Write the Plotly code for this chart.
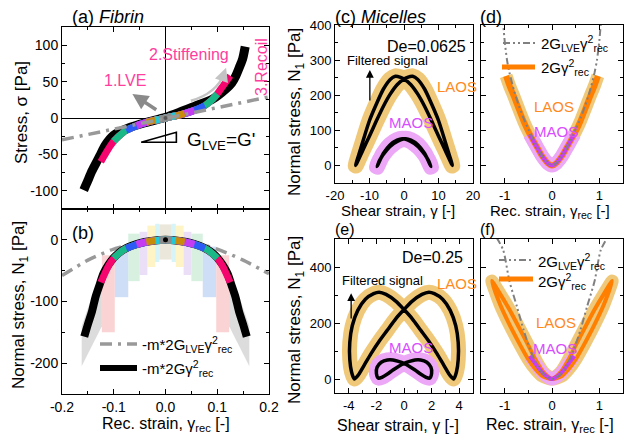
import plotly.graph_objects as go

W, H = 633, 436
FONT = "Liberation Sans, Arial, sans-serif"

# ---------------- tick labels ----------------
A_YTICKS = [-100, -50, 0, 50, 100]
A_YLABELS = ['-100', '-50', '0', '50', '100']
B_XTICKS = [-0.2, -0.1, 0.0, 0.1, 0.2]
B_XLABELS = ['-0.2', '-0.1', '0.0', '0.1', '0.2']
B_YTICKS = [-200, -100, 0]
B_YLABELS = ['-200', '-100', '0']
C_XTICKS = [-20, -10, 0, 10, 20]
C_XLABELS = ['-20', '-10', '0', '10', '20']
C_YTICKS = [0, 100, 200, 300, 400]
C_YLABELS = ['0', '100', '200', '300', '400']
D_XTICKS = [-1, 0, 1]
D_XLABELS = ['-1', '0', '1']
E_XTICKS = [-4, -2, 0, 2, 4]
E_XLABELS = ['-4', '-2', '0', '2', '4']
E_YTICKS = [0, 200, 400]
E_YLABELS = ['0', '200', '400']

# ---------------- (a) fibrin stress ----------------
A_BLACK_X = [-0.158, -0.150, -0.143, -0.135, -0.127, -0.117, -0.101, -0.069, -0.037, 0.0,
             0.027, 0.059, 0.091, 0.117, 0.128, 0.136, 0.143, 0.149, 0.154]
A_BLACK_Y = [-99, -86, -74, -63, -52, -38, -24, -13, -6, 1,
             8, 17, 26, 40, 48, 58, 70, 81, 98]
AMP_LEVELS = [0.125, 0.1, 0.076, 0.056, 0.037, 0.02, 0.012]
AMP_COLORS = ['#F5056E', '#19B886', '#2C5BF5', '#C43BF2', '#C98B0A', '#22C8D8', '#8C8C8C']
A_COL_X = [-0.125, -0.11, -0.1, -0.09, -0.076, -0.056, -0.037, -0.02, -0.012, 0.0,
           0.012, 0.02, 0.037, 0.056, 0.076, 0.09, 0.1, 0.11, 0.125]
A_COL_Y = [-60, -42, -32, -25, -17, -10.5, -6, -3, -2, 0,
           2, 3, 6, 10.5, 17, 25, 33, 43, 58]
A_LVE_X = [-0.2, 0.2]
A_LVE_Y = [-30, 29]
CENTER_X = [0.0]
CENTER_Y = [0.0]

# ---------------- (b) fibrin normal stress ----------------
B_BLACK_X = [-0.157, -0.15, -0.142, -0.135, -0.127, -0.12, -0.11, -0.1, -0.09, -0.075, -0.056, -0.04, -0.02, 0.0,
             0.02, 0.04, 0.056, 0.075, 0.09, 0.1, 0.11, 0.12, 0.127, 0.135, 0.142, 0.15, 0.157]
B_BLACK_Y = [-157, -137, -116, -92, -72, -55, -40, -29, -21, -13, -7, -3.5, -1, 0,
             -1, -3.5, -7, -13, -21, -29, -40, -55, -72, -92, -116, -137, -157]
B_COL_X = A_COL_X
B_COL_Y = [-69, -42, -30, -22, -14, -7.5, -3.5, -1.2, -0.5, 0,
           -0.5, -1.2, -3.5, -7.5, -14, -22, -30, -42, -69]
B_LVE_X = [-0.2, -0.15, -0.1, -0.05, 0.0, 0.05, 0.1, 0.15, 0.2]
B_LVE_Y = [-58, -33, -15, -4, 0, -4, -15, -33, -55]
NOISE_EDGES = [0.0, 0.012, 0.02, 0.035, 0.05, 0.072, 0.098, 0.123]
NOISE_TOP = [25, 26, 23, 13, 10, -11, -25]
NOISE_BOT = [-32, -36, -44, -57, -67, -93, -150]
NOISE_FILL = ['#e4dfcf', '#c9f1f5', '#fdf0b2', '#e3d4f3', '#c9ebd6', '#bed3f4', '#f8c6c6']
B_GRAY_X = [0.123, 0.162, 0.162, 0.123]
B_GRAY_Y = [-45, -140, -205, -140]

# ---------------- (c) micelles De=0.0625 ----------------
C_LAOS_X = [-14, -12, -10, -8, -6, -4, -2.5, -1, 0, 2, 4, 6, 8, 10, 12, 14,
            12, 10, 8, 6, 4, 2.5, 1, 0, -2, -4, -6, -8, -10, -12, -14]
C_LAOS_Y = [0, 66, 128, 175, 217, 245, 254, 251, 246, 230, 203, 168, 127, 84, 42, 0,
            66, 128, 175, 217, 245, 254, 251, 246, 230, 203, 168, 127, 84, 42, 0]
C_MAOS_X = [-7.8, -6, -4, -2, -0.5, 1, 3, 5, 7, 7.8,
            6, 4, 2, 0.5, -1, -3, -5, -7, -7.8]
C_MAOS_Y = [-3, 34, 59, 72, 76, 73, 62, 44, 16, -3,
            34, 59, 72, 76, 73, 62, 44, 16, -3]

# ---------------- (d) micelles De=0.0625, rec strain ----------------
D_LAOS_X = [-0.97, -0.9, -0.8, -0.7, -0.6, -0.5, -0.4, -0.3, -0.2, -0.1, 0.0,
            0.1, 0.2, 0.3, 0.4, 0.5, 0.6, 0.7, 0.8, 0.9, 0.97]
D_LAOS_Y = [255, 228, 195, 160, 126, 97, 72, 48, 25, 8, 0,
            8, 25, 48, 72, 97, 126, 160, 195, 228, 255]
D_MAOS_X = [-0.47, -0.4, -0.3, -0.2, -0.1, 0.0, 0.1, 0.2, 0.3, 0.4, 0.47]
D_MAOS_Y = [89, 72, 48, 25, 8, 0, 8, 25, 48, 72, 89]
D_LVE_X = [-1.04, -1.0, -0.95, -0.9, -0.8, -0.7, -0.6, -0.5, -0.4, -0.3, -0.2, -0.1, 0.0,
           0.1, 0.2, 0.3, 0.4, 0.5, 0.6, 0.7, 0.8, 0.9, 0.95, 1.0, 1.04]
D_LVE_Y = [420, 355, 300, 265, 212, 170, 134, 103, 75, 48, 25, 8, 0,
           8, 25, 48, 75, 103, 134, 170, 212, 265, 300, 355, 420]

# ---------------- (e) micelles De=0.25 ----------------
E_LAOS_X = [-3.6, -3.8, -3.93, -3.93, -3.75, -3.35, -2.8, -2.2, -1.8, -1.3, -0.6, 0.0, 0.6, 1.2, 1.8, 2.4, 2.9, 3.3, 3.6,
            3.8, 3.93, 3.93, 3.75, 3.35, 2.8, 2.2, 1.8, 1.3, 0.6, 0.0, -0.6, -1.2, -1.8, -2.4, -2.9, -3.3, -3.6]
E_LAOS_Y = [0, 25, 70, 130, 190, 245, 285, 305, 310, 302, 278, 248, 215, 175, 135, 90, 48, 15, 0,
            25, 70, 130, 190, 245, 285, 305, 310, 302, 278, 248, 215, 175, 135, 90, 48, 15, 0]
E_MAOS_X = [-1.85, -2.0, -1.95, -1.65, -1.2, -0.8, -0.4, 0.0, 0.4, 0.8, 1.2, 1.6, 1.85,
            2.0, 1.95, 1.65, 1.2, 0.8, 0.4, 0.0, -0.4, -0.8, -1.2, -1.6, -1.85]
E_MAOS_Y = [3, 20, 42, 60, 68, 68, 63, 56, 45, 32, 18, 6, 3,
            20, 42, 60, 68, 68, 63, 56, 45, 32, 18, 6, 3]

# ---------------- (f) micelles De=0.25, rec strain ----------------
F_LAOS_X = [-1.27, -1.1, -0.9, -0.7, -0.5, -0.35, -0.2, 0.0, 0.2, 0.35, 0.5, 0.7, 0.9, 1.1, 1.27,
            1.1, 0.9, 0.7, 0.5, 0.35, 0.2, 0.0, -0.2, -0.35, -0.5, -0.7, -0.9, -1.1, -1.27]
F_LAOS_Y = [350, 305, 248, 185, 120, 70, 28, 0, 10, 35, 70, 130, 195, 268, 350,
            305, 248, 185, 120, 70, 28, 0, 10, 35, 70, 130, 195, 268, 350]
F_MAOS_X = [-0.47, -0.35, -0.25, -0.15, -0.05, 0.0, 0.05, 0.15, 0.25, 0.35, 0.47]
F_MAOS_Y = [82, 55, 32, 14, 3, 0, 3, 14, 32, 55, 82]
F_LVE_X = [-1.17, -1.03, -0.9, -0.74, -0.6, -0.46, -0.3, -0.15, 0.0, 0.15, 0.3, 0.46, 0.6, 0.74, 0.9, 1.03, 1.17]
F_LVE_Y = [505, 460, 350, 258, 175, 104, 45, 12, 0, 12, 45, 104, 175, 258, 350, 460, 505]

# ---------------- colours ----------------
PINK_T = '#FF3D9E'
ORANGE = '#FF7F00'
ORANGE_T = '#FF8A1E'
TAN = '#F0C87A'
VIOLET = '#C83CF5'
VIOLET_T = '#D94CFF'
VIOLET_BAND = '#ECA8F6'

fig = go.Figure()


def line(x, y, ax, color, width, dash=None, smooth=True, opacity=1.0):
    fig.add_trace(go.Scatter(
        x=x, y=y, xaxis='x' + ax, yaxis='y' + ax, mode='lines',
        line=dict(color=color, width=width, dash=dash,
                  shape='spline' if smooth else 'linear', smoothing=0.7),
        opacity=opacity, hoverinfo='skip', showlegend=False))


def poly(x, y, ax, color, opacity=1.0):
    fig.add_trace(go.Scatter(
        x=x, y=y, xaxis='x' + ax, yaxis='y' + ax, mode='lines', fill='toself',
        fillcolor=color, line=dict(width=0), opacity=opacity,
        hoverinfo='skip', showlegend=False))


def subset(xs, ys, lim):
    px_, py_ = [], []
    for a, b in zip(xs, ys):
        if abs(a) <= lim + 1e-9:
            px_.append(a)
            py_.append(b)
    return px_, py_


# ---- (a)
line(A_BLACK_X, A_BLACK_Y, '', 'black', 9)
for lev, col in zip(AMP_LEVELS, AMP_COLORS):
    sx, sy = subset(A_COL_X, A_COL_Y, lev)
    line(sx, sy, '', col, 7)
fig.add_trace(go.Scatter(x=CENTER_X, y=CENTER_Y, xaxis='x', yaxis='y', mode='markers',
                         marker=dict(color='#555', size=4), hoverinfo='skip', showlegend=False))
line(A_LVE_X, A_LVE_Y, '', '#999999', 3.5, dash='12px,6px,3px,6px', smooth=False)

# ---- (b)
for i, col in enumerate(NOISE_FILL):
    e0, e1 = NOISE_EDGES[i], NOISE_EDGES[i + 1]
    t, b = NOISE_TOP[i], NOISE_BOT[i]
    if e0 == 0.0:
        poly([-e1, e1, e1, -e1, -e1], [t, t, b, b, t], '2', col, 0.75)
    else:
        poly([-e1, -e0, -e0, -e1, -e1], [t, t, b, b, t], '2', col, 0.75)
        poly([e0, e1, e1, e0, e0], [t, t, b, b, t], '2', col, 0.75)
poly(B_GRAY_X, B_GRAY_Y, '2', '#d6d6d6', 0.85)
poly([-v for v in B_GRAY_X], B_GRAY_Y, '2', '#d6d6d6', 0.85)
line(B_LVE_X, B_LVE_Y, '2', '#999999', 3.5, dash='12px,6px,3px,6px')
line(B_BLACK_X, B_BLACK_Y, '2', 'black', 8)
for lev, col in zip(AMP_LEVELS, AMP_COLORS):
    sx, sy = subset(B_COL_X, B_COL_Y, lev)
    line(sx, sy, '2', col, 7)
fig.add_trace(go.Scatter(x=CENTER_X, y=CENTER_Y, xaxis='x2', yaxis='y2', mode='markers',
                         marker=dict(color='black', size=5), hoverinfo='skip', showlegend=False))

# ---- (c)
line(C_LAOS_X, C_LAOS_Y, '3', TAN, 16)
line(C_MAOS_X, C_MAOS_Y, '3', VIOLET_BAND, 16)
line(C_LAOS_X, C_LAOS_Y, '3', 'black', 3.5)
line(C_MAOS_X, C_MAOS_Y, '3', 'black', 3.5)

# ---- (d)
line(D_LAOS_X, D_LAOS_Y, '4', TAN, 13)
line(D_MAOS_X, D_MAOS_Y, '4', VIOLET_BAND, 14)
line(D_LAOS_X, D_LAOS_Y, '4', ORANGE, 6)
line(D_MAOS_X, D_MAOS_Y, '4', VIOLET, 4)
line(D_LVE_X, D_LVE_Y, '4', '#808080', 2, dash='7px,3px,2px,3px,2px,3px')

# ---- (e)
line(E_LAOS_X, E_LAOS_Y, '5', TAN, 15)
line(E_MAOS_X, E_MAOS_Y, '5', VIOLET_BAND, 15)
line(E_LAOS_X, E_LAOS_Y, '5', 'black', 3.5)
line(E_MAOS_X, E_MAOS_Y, '5', 'black', 3.5)

# ---- (f)
line(F_LAOS_X, F_LAOS_Y, '6', TAN, 13)
line(F_MAOS_X, F_MAOS_Y, '6', VIOLET_BAND, 13)
line(F_LAOS_X, F_LAOS_Y, '6', ORANGE, 4)
line(F_MAOS_X, F_MAOS_Y, '6', VIOLET, 4)
line(F_LVE_X, F_LVE_Y, '6', '#808080', 2, dash='7px,3px,2px,3px,2px,3px')


# ---------------- axes ----------------
def dom_x(a, b):
    return [a / W, b / W]


def dom_y(top, bottom):
    return [1 - bottom / H, 1 - top / H]


def axis(domain, rng, anchor, tickvals, ticktext, minor, show=True, size=13, **kw):
    d = dict(domain=domain, range=rng, anchor=anchor, showline=True, linecolor='black',
             linewidth=1, mirror='ticks', ticks='inside', ticklen=5, tickwidth=1,
             tickcolor='black', showgrid=False, zeroline=False, tickmode='array',
             tickvals=tickvals, ticktext=ticktext, showticklabels=show, automargin=False,
             tickfont=dict(size=size, color='black', family=FONT),
             minor=dict(ticks='inside', ticklen=3, tickcolor='black', dtick=minor,
                        tick0=0, showgrid=False))
    d.update(kw)
    return d


XA = dom_x(62, 269)
XC = dom_x(335, 473)
XD = dom_x(481, 623)
YA = dom_y(27, 209)
YB = dom_y(209, 394)
YC = dom_y(25, 183)
YE = dom_y(239, 393)

fig.update_layout(
    xaxis=axis(XA, [-0.2, 0.2], 'y', B_XTICKS, B_XLABELS, 0.05, show=False,
               zeroline=True, zerolinecolor='black', zerolinewidth=1),
    yaxis=axis(YA, [-125, 125], 'x', A_YTICKS, A_YLABELS, 25, size=14,
               zeroline=True, zerolinecolor='black', zerolinewidth=1),
    xaxis2=axis(XA, [-0.2, 0.2], 'y2', B_XTICKS, B_XLABELS, 0.05, size=14),
    yaxis2=axis(YB, [-250, 50], 'x2', B_YTICKS, B_YLABELS, 50, size=14),
    xaxis3=axis(XC, [-20, 20], 'y3', C_XTICKS, C_XLABELS, 5),
    yaxis3=axis(YC, [-50, 400], 'x3', C_YTICKS, C_YLABELS, 50),
    xaxis4=axis(XD, [-1.5, 1.5], 'y4', D_XTICKS, D_XLABELS, 0.5),
    yaxis4=axis(YC, [-50, 400], 'x4', C_YTICKS, C_YLABELS, 50, show=False),
    xaxis5=axis(XC, [-5, 5], 'y5', E_XTICKS, E_XLABELS, 1),
    yaxis5=axis(YE, [-50, 500], 'x5', E_YTICKS, E_YLABELS, 100),
    xaxis6=axis(XD, [-1.5, 1.5], 'y6', D_XTICKS, D_XLABELS, 0.5),
    yaxis6=axis(YE, [-50, 500], 'x6', E_YTICKS, E_YLABELS, 100, show=False),
)

# ---------------- annotations ----------------
ann = []


def text(x, y, s, size=16, color='black', xanchor='left', angle=0):
    ann.append(dict(x=x / W, y=1 - y / H, xref='paper', yref='paper', text=s, showarrow=False,
                    font=dict(size=size, color=color, family=FONT), xanchor=xanchor,
                    yanchor='middle', textangle=angle))


NS = 'Normal stress, N<sub>1</sub> [Pa]'
RS = 'Rec. strain, γ<sub>rec</sub> [-]'
SS = 'Shear strain, γ [-]'
text(70, 17, '(a) <i>Fibrin</i>', 18)
text(70, 233, '(b)', 18)
text(333, 17, '(c) <i>Micelles</i>', 18)
text(478, 17, '(d)', 18)
text(333, 229, '(e)', 16)
text(478, 229, '(f)', 16)
text(22, 113, 'Stress, σ [Pa]', 17, angle=-90, xanchor='center')
text(20, 305, NS, 17, angle=-90, xanchor='center')
text(296, 112, NS, 17, angle=-90, xanchor='center')
text(296, 320, NS, 17, angle=-90, xanchor='center')
text(166, 424, RS, 16, xanchor='center')
text(398, 210, SS, 15, xanchor='center')
text(550, 211, RS, 15, xanchor='center')
text(398, 425, SS, 16, xanchor='center')
text(550, 425, RS, 16, xanchor='center')

text(102, 80, '1.LVE', 16, PINK_T)
text(147, 55, '2.Stiffening', 16, PINK_T)
text(261, 67, '3.Recoil', 16, PINK_T, xanchor='center', angle=-90)
text(185, 141, "G<sub>LVE</sub>=G'", 19)

text(385, 47, 'De=0.0625', 16)
text(345, 60, 'Filtered signal', 13)
text(435, 87, 'LAOS', 15, ORANGE_T)
text(387, 122, 'MAOS', 15, VIOLET_T)
text(532, 106, 'LAOS', 15, ORANGE_T)
text(532, 132, 'MAOS', 15, VIOLET_T)
text(400, 257, 'De=0.25', 16)
text(340, 280, 'Filtered signal', 13)
text(435, 283, 'LAOS', 15, ORANGE_T)
text(387, 347, 'MAOS', 15, VIOLET_T)
text(534, 322, 'LAOS', 15, ORANGE_T)
text(531, 348, 'MAOS', 15, VIOLET_T)

LEG_LVE_B = '-m*2G<sub>LVE</sub>γ<sup>2</sup><sub>rec</sub>'
LEG_G_B = '-m*2Gγ<sup>2</sup><sub>rec</sub>'
LEG_LVE = '2G<sub>LVE</sub>γ<sup>2</sup><sub>rec</sub>'
LEG_G = '2Gγ<sup>2</sup><sub>rec</sub>'
text(140, 344, LEG_LVE_B, 15)
text(140, 368, LEG_G_B, 15)
text(539, 43, LEG_LVE, 15)
text(539, 67, LEG_G, 15)
text(536, 261, LEG_LVE, 15)
text(536, 281, LEG_G, 15)

# arrows
ann.append(dict(x=-0.064, y=33, ax=-0.015, ay=10, xref='x', yref='y', axref='x', ayref='y',
                text='', showarrow=True, arrowhead=2, arrowsize=0.9, arrowwidth=3.5,
                arrowcolor='#8a8a8a'))
ann.append(dict(x=0.117, y=69, ax=0.112, ay=59, xref='x', yref='y', axref='x', ayref='y',
                text='', showarrow=True, arrowhead=2, arrowsize=1.1, arrowwidth=2.5,
                arrowcolor='#c4c4c4'))
ann.append(dict(x=-9.9, y=272, ax=-9.9, ay=181, xref='x3', yref='y3', axref='x3', ayref='y3',
                text='', showarrow=True, arrowhead=2, arrowsize=1.2, arrowwidth=1.3,
                arrowcolor='black'))
ann.append(dict(x=-3.83, y=306, ax=-3.83, ay=211, xref='x5', yref='y5', axref='x5', ayref='y5',
                text='', showarrow=True, arrowhead=2, arrowsize=1.2, arrowwidth=1.3,
                arrowcolor='black'))

# ---------------- shapes ----------------
shapes = []


def pline(x0, x1, y, color, width, dash=None):
    shapes.append(dict(type='line', xref='paper', yref='paper', x0=x0 / W, x1=x1 / W,
                       y0=1 - y / H, y1=1 - y / H, line=dict(color=color, width=width, dash=dash)))


pline(100, 137, 344, '#999999', 3.5, '12px,6px,3px,6px')
pline(100, 137, 368, 'black', 6)
pline(503, 535, 43, '#808080', 2, '7px,3px,2px,3px,2px,3px')
pline(502, 535, 67, ORANGE, 5)
pline(499, 533, 260, '#808080', 2, '7px,3px,2px,3px,2px,3px')
pline(499, 533, 279, ORANGE, 5)

shapes.append(dict(type='path', xref='x', yref='y',
                   path='M -0.047,-33.3 L 0.021,-19.6 L 0.021,-33.3 Z',
                   line=dict(color='black', width=1.6)))
shapes.append(dict(type='path', xref='x', yref='y',
                   path='M 0.049,23.7 Q 0.099,33.6 0.114,62',
                   line=dict(color='#c4c4c4', width=2.5)))

fig.update_layout(
    width=W, height=H, autosize=False,
    margin=dict(l=0, r=0, t=0, b=0, pad=0, autoexpand=False),
    paper_bgcolor='white', plot_bgcolor='white',
    font=dict(family=FONT, color='black'),
    annotations=ann, shapes=shapes, showlegend=False,
)

fig.write_html("out.html", config={'displayModeBar': False},
               post_script="document.body.style.margin='0';document.body.style.overflow='hidden';")
